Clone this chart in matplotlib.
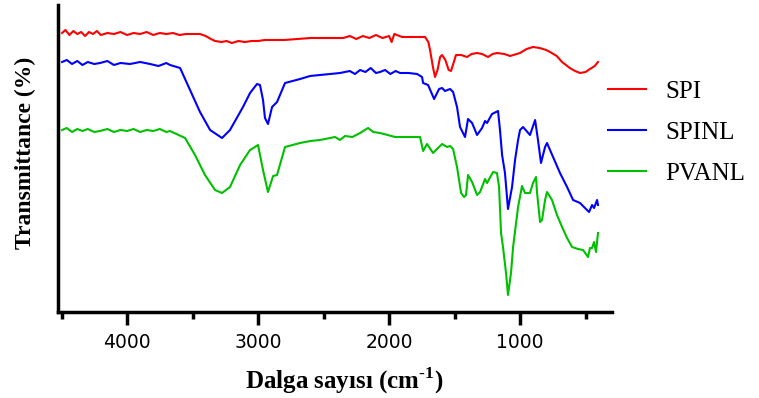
import matplotlib
matplotlib.use("Agg")
import matplotlib.pyplot as plt

plt.rcParams["mathtext.fontset"] = "custom"
plt.rcParams["mathtext.rm"] = "Liberation Serif:bold"
plt.rcParams["mathtext.bf"] = "Liberation Serif:bold"

# Wavenumber (cm-1) and transmittance (arbitrary units, offset spectra)
spi_w = [4496, 4470, 4440, 4410, 4380, 4350, 4320, 4290, 4260, 4230, 4200, 4150, 4100, 4050, 4000,
         3950, 3900, 3850, 3800, 3750, 3700, 3650, 3600, 3550, 3500, 3443, 3400, 3360, 3328, 3280,
         3240, 3200, 3150, 3100, 3050, 3000, 2950, 2908, 2800, 2700, 2600, 2450, 2350, 2300, 2250,
         2200, 2150, 2100, 2050, 2000, 1980, 1960, 1900, 1800, 1725, 1700, 1687, 1665, 1649, 1630,
         1610, 1595, 1570, 1545, 1527, 1510, 1489, 1450, 1405, 1370, 1328, 1290, 1244, 1210, 1176,
         1120, 1076, 1000, 950, 901, 850, 800, 771, 720, 679, 620, 580, 542, 500, 466, 430, 405]
spi_t = [279, 282, 277, 281, 278, 280, 276, 280, 278, 281, 277, 279, 278, 280, 277,
         279, 278, 280, 277, 279, 278, 279, 277, 278, 278, 278, 276, 273, 271, 270,
         271, 269, 271, 270, 271, 271, 272, 272, 272, 273, 274, 274, 274, 276, 273,
         276, 274, 277, 274, 276, 270, 278, 275, 275, 275, 270, 262, 245, 235, 242,
         255, 257, 252, 242, 241, 248, 257, 257, 255, 258, 259, 258, 255, 258, 259,
         258, 256, 259, 263, 265, 264, 262, 260, 256, 250, 244, 241, 239, 240, 243, 246, 250]

spinl_w = [4496, 4460, 4420, 4380, 4340, 4300, 4250, 4206, 4150, 4100, 4050, 3977, 3900, 3824,
           3760, 3700, 3672, 3595, 3519, 3443, 3366, 3275, 3214, 3115, 3061, 3008, 2985, 2962,
           2947, 2924, 2893, 2855, 2794, 2679, 2603, 2527, 2450, 2374, 2300, 2260, 2221, 2180,
           2140, 2100, 2069, 2030, 1990, 1950, 1916, 1850, 1786, 1748, 1740, 1702, 1656, 1618,
           1595, 1573, 1534, 1511, 1481, 1458, 1420, 1397, 1366, 1328, 1290, 1267, 1252, 1214,
           1168, 1153, 1137, 1115, 1092, 1061, 1038, 1015, 1000, 977, 924, 885, 863, 840, 809,
           794, 748, 695, 641, 595, 542, 489, 473, 450, 435, 412, 405]
spinl_t = [250, 252, 248, 251, 247, 250, 248, 249, 251, 247, 249, 248, 250, 248,
           246, 249, 247, 244, 222, 200, 182, 174, 182, 205, 219, 228, 227, 212,
           194, 188, 205, 210, 229, 233, 236, 237, 238, 239, 241, 238, 242, 240,
           244, 239, 240, 242, 238, 241, 239, 239, 238, 235, 229, 227, 213, 223,
           224, 221, 223, 220, 205, 185, 175, 193, 189, 177, 184, 191, 189, 198,
           201, 182, 157, 139, 103, 125, 152, 172, 182, 185, 177, 192, 172, 149, 165,
           169, 155, 139, 125, 112, 109, 102, 100, 107, 104, 112, 107]

pvanl_w = [4496, 4460, 4420, 4380, 4340, 4300, 4250, 4206, 4150, 4100, 4050, 4000, 3950, 3900,
           3850, 3800, 3750, 3700, 3672, 3557, 3481, 3405, 3328, 3275, 3214, 3137, 3061, 3000,
           2962, 2924, 2885, 2855, 2794, 2679, 2600, 2527, 2450, 2412, 2374, 2336, 2280, 2221,
           2160, 2120, 2069, 2010, 1954, 1850, 1763, 1740, 1710, 1664, 1595, 1557, 1534, 1511,
           1481, 1450, 1427, 1412, 1397, 1366, 1328, 1305, 1267, 1252, 1206, 1176, 1160, 1145,
           1130, 1107, 1092, 1069, 1053, 1015, 985, 962, 924, 901, 878, 870, 847, 832, 809,
           794, 756, 718, 679, 641, 603, 557, 519, 481, 466, 450, 435, 420, 405]
pvanl_t = [182, 184, 180, 183, 181, 183, 180, 181, 183, 180, 182, 181, 183, 180,
           182, 181, 183, 180, 181, 174, 157, 137, 122, 119, 125, 147, 162, 167,
           142, 120, 136, 137, 165, 169, 171, 172, 174, 175, 172, 176, 175, 179,
           184, 180, 179, 177, 175, 175, 175, 161, 168, 159, 168, 165, 166, 163,
           145, 119, 115, 117, 137, 130, 117, 120, 133, 129, 140, 139, 125, 79,
           65, 39, 17, 39, 65, 105, 126, 119, 119, 129, 135, 119, 90, 92, 112,
           120, 112, 97, 85, 74, 65, 63, 62, 55, 64, 64, 70, 60, 79]

series_labels = ["SPI", "SPINL", "PVANL"]
series_colors = ["#ff0000", "#0000ff", "#00c000"]
x_ticks = [4000, 3000, 2000, 1000]

fig = plt.figure(figsize=(7.59, 3.98), dpi=100)
ax = fig.add_axes([58/759, 1-312/398, (612-58)/759, (312-5)/398])

for w, t, lab, col in zip([spi_w, spinl_w, pvanl_w], [spi_t, spinl_t, pvanl_t],
                          series_labels, series_colors):
    ax.plot(w, t, color=col, lw=1.5, label=lab)

ax.set_xlim(4527, 298)
ax.set_ylim(0, 307)
ax.set_xticks(x_ticks)
ax.set_xticks([4500, 3500, 2500, 1500, 500], minor=True)
ax.set_yticks([])
for s in ["top", "right"]:
    ax.spines[s].set_visible(False)
for s in ["left", "bottom"]:
    ax.spines[s].set_linewidth(2.5)
ax.tick_params(axis="x", which="major", direction="out", length=9, width=2.5, pad=6,
               labelsize=13.5)
ax.tick_params(axis="x", which="minor", direction="out", length=5, width=2.5)
for lbl in ax.get_xticklabels():
    lbl.set_fontfamily("DejaVu Sans")

ax.set_xlabel("Dalga sayısı (cm$^{\\text{-1}}$)", fontfamily="Liberation Serif",
              fontweight="bold", fontsize=18)
ax.xaxis.set_label_coords((344-58)/554, (312-381)/307)
ax.xaxis.label.set_va("center")
ax.set_ylabel("Transmittance (%)", fontfamily="Liberation Serif",
              fontweight="bold", fontsize=17)
ax.yaxis.set_label_coords((25-58)/554, (312-153)/307)
ax.yaxis.label.set_va("center")

leg = ax.legend(loc="upper left", bbox_to_anchor=(585/759, 1-58/398),
                bbox_transform=fig.transFigure, frameon=False,
                prop={"family": "Liberation Serif", "size": 18},
                handlelength=1.55, handletextpad=0.75, labelspacing=0.73)

fig.savefig("out.png", dpi=100)
